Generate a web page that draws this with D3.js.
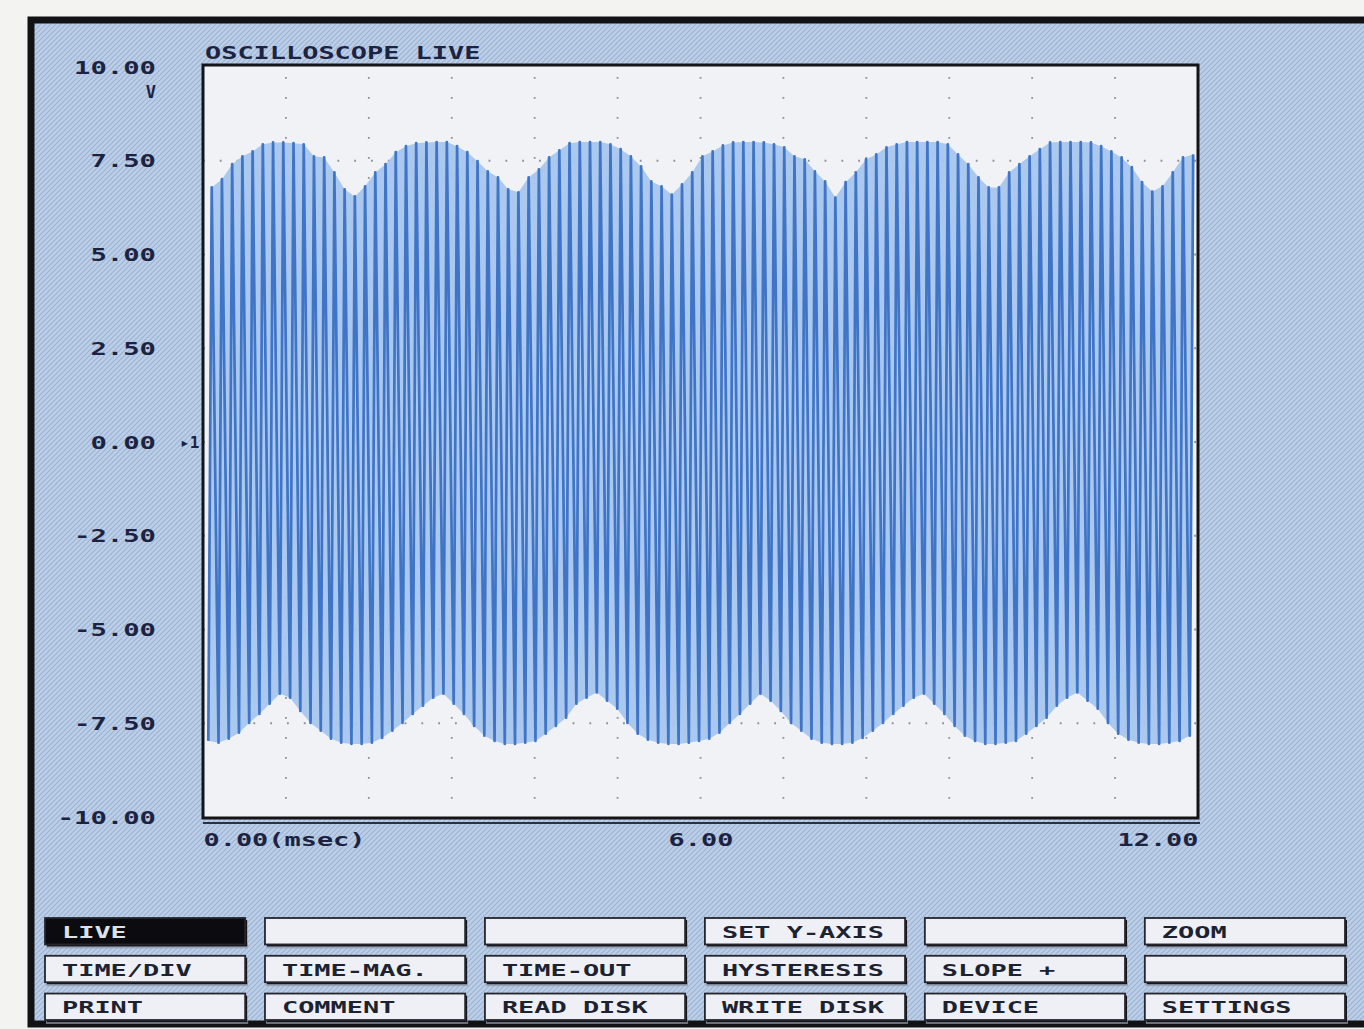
<!DOCTYPE html>
<html><head><meta charset="utf-8">
<script src="https://cdn.jsdelivr.net/npm/d3@7"></script>
<style>body{margin:0;background:#f3f3f1;} svg{display:block}</style>
</head><body><svg id="c" width="1364" height="1029"></svg>
<script>
// ---------------- data ----------------
const title = "OSCILLOSCOPE LIVE";
const unitLabel = "V";
const yTicks = [10, 7.5, 5, 2.5, 0, -2.5, -5, -7.5, -10];
const yTickLabels = ["10.00","7.50","5.00","2.50","0.00","-2.50","-5.00","-7.50","-10.00"];
const xTicks = [0, 6, 12];
const xTickLabels = ["0.00(msec)","6.00","12.00"];
const timeStep = 0.1233;      // ms between successive strokes
const topStart = 0.105;       // ms, first upper peak
const bottomStart = 0.064;    // ms, first lower trough
// upper peaks (V), one per stroke
const topPeaks = [
 6.79,7.01,7.41,7.62,7.75,7.94,7.99,7.99,7.97,7.94,
 7.62,7.59,7.19,6.74,6.55,6.82,7.19,7.41,7.73,7.89,
 7.97,7.99,8.00,8.00,7.89,7.73,7.49,7.22,7.06,6.74,
 6.66,7.06,7.27,7.59,7.78,7.97,8.00,8.00,8.00,7.94,
 7.81,7.62,7.35,6.95,6.82,6.60,6.87,7.19,
 7.62,7.75,7.91,7.99,8.00,8.00,7.99,7.94,7.86,7.62,
 7.54,7.22,6.95,6.52,6.93,7.19,7.54,7.67,7.86,7.94,
 8.00,8.00,8.00,8.00,7.94,7.67,7.41,7.06,6.79,6.79,
 7.19,7.41,7.62,7.81,7.99,8.00,8.00,8.00,7.99,7.89,
 7.75,7.59,7.33,6.93,6.68,6.82,7.19,7.59,7.67
];
// lower troughs (V), one per stroke
const bottomTroughs = [
 -7.97,-8.02,-7.91,-7.75,-7.49,-7.25,-6.98,-6.71,-6.82,-7.17,
 -7.49,-7.70,-7.91,-8.02,-8.05,-8.05,-8.02,-7.89,-7.70,-7.49,
 -7.25,-7.03,-6.82,-6.71,-6.98,-7.25,-7.57,-7.83,-7.97,-8.05,
 -8.05,-8.02,-7.97,-7.78,-7.57,-7.35,-6.98,-6.82,-6.68,-6.90,
 -7.11,-7.49,-7.78,-7.94,-8.02,-8.05,-8.05,-8.02,-7.97,
 -7.91,-7.75,-7.49,-7.25,-6.98,-6.71,-6.90,-7.17,-7.49,-7.70,
 -7.91,-8.02,-8.05,-8.05,-8.02,-7.89,-7.70,-7.49,-7.25,-7.03,
 -6.82,-6.71,-6.98,-7.25,-7.57,-7.83,-7.97,-8.05,-8.05,-8.02,
 -7.97,-7.78,-7.57,-7.35,-7.03,-6.82,-6.68,-6.90,-7.11,-7.49,
 -7.78,-7.94,-8.02,-8.05,-8.05,-8.02,-7.97,-7.83
];
const buttonRows = [
 ["LIVE","","","SET Y-AXIS","","ZOOM"],
 ["TIME/DIV","TIME-MAG.","TIME-OUT","HYSTERESIS","SLOPE +",""],
 ["PRINT","COMMENT","READ DISK","WRITE DISK","DEVICE","SETTINGS"]
];
const activeButton = "LIVE";

// ---------------- drawing ----------------
const FONT = "'DejaVu Sans Mono', 'Liberation Mono', monospace";
const CH = 16.2;
const TXT = "#1c2340";
const svg = d3.select("#c");
const W = 1364, H = 1029;
const defs = svg.append("defs");
const pat = defs.append("pattern").attr("id","hatch").attr("patternUnits","userSpaceOnUse")
  .attr("width",5).attr("height",5);
pat.append("rect").attr("width",5).attr("height",5).attr("fill","#bccfe8");
pat.append("path").attr("d","M-1,1 L1,-1 M0,5 L5,0 M4,6 L6,4")
  .attr("stroke","#9db2d2").attr("stroke-width",1.2);

svg.append("rect").attr("width",W).attr("height",H).attr("fill","#f3f3f1");
svg.append("rect").attr("x",31).attr("y",20).attr("width",1345).attr("height",1004)
  .attr("fill","url(#hatch)").attr("stroke","#121214").attr("stroke-width",7);

const x = d3.scaleLinear().domain([0,12]).range([203,1198]);
const y = d3.scaleLinear().domain([-10,10]).range([817,67]);

// plot background
svg.append("rect").attr("x",x(0)).attr("y",y(10)-2).attr("width",x(12)-x(0)).attr("height",y(-10)-y(10)+3)
  .attr("fill","#f1f2f6");

// dotted grid
const grid = svg.append("g");
grid.selectAll("line.v").data(x.ticks(12).filter(d=>d>0 && d<12)).join("line")
  .attr("x1",d=>x(d)).attr("x2",d=>x(d)).attr("y1",y(10)+10).attr("y2",y(-10))
  .attr("stroke","#8d8f96").attr("stroke-width",1.8).attr("stroke-dasharray","1.8,18.2");
grid.selectAll("line.h").data(yTicks.filter(d=>Math.abs(d)<10)).join("line")
  .attr("x1",x(0)).attr("x2",x(12)).attr("y1",d=>y(d)).attr("y2",d=>y(d))
  .attr("stroke","#8d8f96").attr("stroke-width",1.8).attr("stroke-dasharray","1.8,15");

// waveform
const topPts = topPeaks.map((v,i)=>[topStart + i*timeStep, v]);
const botPts = bottomTroughs.map((v,i)=>[bottomStart + i*timeStep, v]);
const line = d3.line().x(d=>x(d[0])).y(d=>y(d[1]));
svg.append("path").attr("d", line(topPts.concat(botPts.slice().reverse())) + "Z")
  .attr("fill","#a6c6ee").attr("opacity",0.95);
const zig = [];
topPts.forEach((p,i)=>{ zig.push(botPts[i]); zig.push(p); });
svg.append("path").attr("d", line(zig)).attr("fill","none")
  .attr("stroke","#3f74c6").attr("stroke-width",2.7).attr("stroke-linejoin","round");

// frame
svg.append("rect").attr("x",x(0)).attr("y",y(10)-2).attr("width",x(12)-x(0)).attr("height",y(-10)-y(10)+3)
  .attr("fill","none").attr("stroke","#141418").attr("stroke-width",3);
svg.append("line").attr("x1",x(0)).attr("x2",x(12)+2).attr("y1",y(-10)+6).attr("y2",y(-10)+6)
  .attr("stroke","#2a3242").attr("stroke-width",2);

function styleText(sel){
  sel.attr("font-family",FONT).attr("font-weight","bold").attr("font-size",17).attr("fill",TXT)
    .attr("lengthAdjust","spacingAndGlyphs");
}

// title
svg.append("text").attr("x",x(0)+2).attr("y",59).text(title).call(styleText)
  .attr("textLength", title.length*CH);

// y axis
const gy = svg.append("g").attr("transform","translate(156,0)")
  .call(d3.axisLeft(y).tickValues(yTicks).tickSize(0).tickPadding(0)
    .tickFormat(d=>yTickLabels[yTicks.indexOf(d)]));
gy.select(".domain").remove();
gy.selectAll("text").call(styleText).attr("dy","0.36em")
  .attr("textLength", function(d){ return yTickLabels[yTicks.indexOf(d)].length*(CH+0.2); });
svg.append("text").attr("x",156).attr("y",98).attr("text-anchor","end").text(unitLabel).call(styleText);
// trigger marker at 0 V
svg.append("text").attr("x",180).attr("y",y(0)).attr("dy","0.36em").text("▸1")
  .attr("font-family",FONT).attr("font-weight","bold").attr("font-size",16).attr("fill",TXT);

// x axis
const gx = svg.append("g").attr("transform",`translate(0,${y(-10)})`)
  .call(d3.axisBottom(x).tickValues(xTicks).tickSize(0)
    .tickFormat(d=>xTickLabels[xTicks.indexOf(d)]));
gx.select(".domain").remove();
gx.selectAll("text").call(styleText).attr("y",29).attr("dy",0)
  .attr("text-anchor",(d,i)=> i===0 ? "start" : (i===xTicks.length-1 ? "end" : "middle"))
  .attr("textLength", d=>xTickLabels[xTicks.indexOf(d)].length*CH);

// buttons
const colB = d3.scaleBand().domain(d3.range(6)).range([45,1345]).paddingInner(0.09);
const rowB = d3.scaleBand().domain(d3.range(3)).range([918,1020]).paddingInner(0.3);
const btn = svg.append("g");
buttonRows.forEach((row,r)=>{
  row.forEach((label,c)=>{
    const bx = colB(c), by = rowB(r), bw = colB.bandwidth(), bh = rowB.bandwidth();
    const active = label === activeButton;
    btn.append("rect").attr("x",bx+1).attr("y",by+bh-1).attr("width",bw+2).attr("height",5)
      .attr("fill","#8e98a8").attr("opacity",0.7);
    btn.append("rect").attr("x",bx+2).attr("y",by+2).attr("width",bw).attr("height",bh)
      .attr("fill","#141419");
    btn.append("rect").attr("x",bx).attr("y",by).attr("width",bw).attr("height",bh)
      .attr("fill", active ? "#0c0c10" : "#eef0f6").attr("stroke","#25262e").attr("stroke-width",1.8);
    if (label) {
      btn.append("text").attr("x",bx+17).attr("y",by+bh/2+6.5).text(label).call(styleText)
        .attr("font-size",16).attr("fill", active ? "#dde2ea" : "#1d2230")
        .attr("textLength", label.length*CH);
    }
  });
});
</script>
</body></html>
